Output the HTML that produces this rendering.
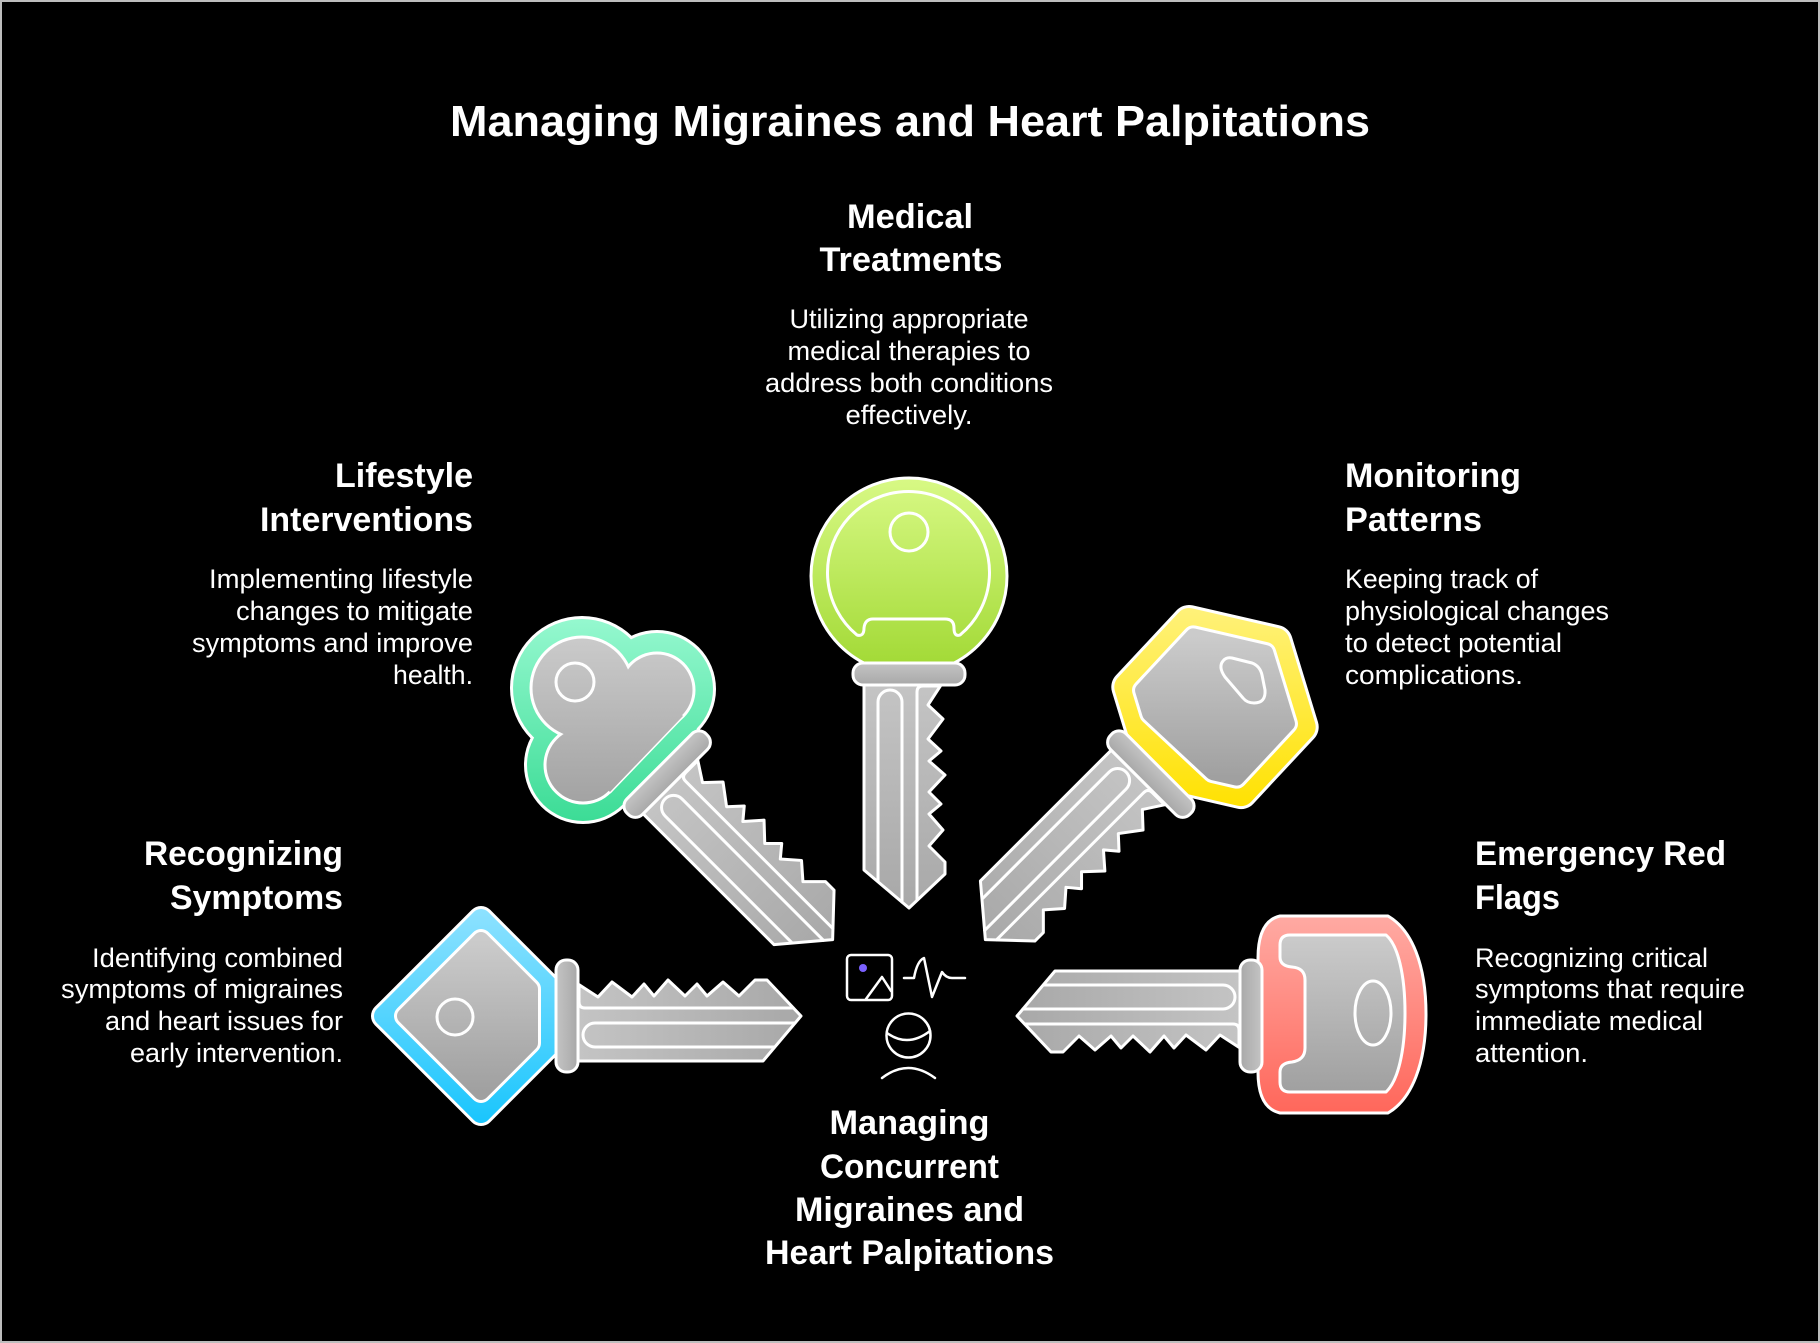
<!DOCTYPE html>
<html>
<head>
<meta charset="utf-8">
<style>
  html,body{margin:0;padding:0;background:#000;}
  svg{display:block;}
  .bl{fill:url(#gBlade);stroke:#fff;stroke-width:3;stroke-linejoin:round;}
  .ln{fill:none;stroke:#fff;stroke-width:3;stroke-linecap:round;stroke-linejoin:round;}
  .t{font-family:"Liberation Sans",sans-serif;font-weight:bold;font-size:44px;fill:#fff;}
  .h{font-family:"Liberation Sans",sans-serif;font-weight:bold;font-size:34px;fill:#fff;}
  .d{font-family:"Liberation Sans",sans-serif;font-size:27px;fill:#fff;}
</style>
</head>
<body>
<svg width="1820" height="1343" viewBox="0 0 1820 1343" xmlns="http://www.w3.org/2000/svg">
<defs>
  <linearGradient id="gBlade" x1="0" y1="0" x2="1" y2="0">
    <stop offset="0" stop-color="#c4c4c4"/><stop offset="1" stop-color="#a8a8a8"/>
  </linearGradient>
  <linearGradient id="gGray" x1="0" y1="0" x2="0" y2="1">
    <stop offset="0" stop-color="#cbcbcb"/><stop offset="1" stop-color="#a0a0a0"/>
  </linearGradient>
  <linearGradient id="gGT" gradientUnits="userSpaceOnUse" x1="0" y1="636" x2="0" y2="805">
    <stop offset="0" stop-color="#cbcbcb"/><stop offset="1" stop-color="#a2a2a2"/>
  </linearGradient>
  <linearGradient id="gB" gradientUnits="userSpaceOnUse" x1="0" y1="906" x2="0" y2="1127">
    <stop offset="0" stop-color="#8fe2ff"/><stop offset="1" stop-color="#18c5fd"/>
  </linearGradient>
  <linearGradient id="gT" gradientUnits="userSpaceOnUse" x1="0" y1="619" x2="0" y2="821">
    <stop offset="0" stop-color="#95f8cf"/><stop offset="1" stop-color="#3cdc96"/>
  </linearGradient>
  <linearGradient id="gG" gradientUnits="userSpaceOnUse" x1="0" y1="478" x2="0" y2="664">
    <stop offset="0" stop-color="#d8f985"/><stop offset="1" stop-color="#a3da37"/>
  </linearGradient>
  <linearGradient id="gY" gradientUnits="userSpaceOnUse" x1="0" y1="604" x2="0" y2="810">
    <stop offset="0" stop-color="#fff27c"/><stop offset="1" stop-color="#ffe100"/>
  </linearGradient>
  <linearGradient id="gR" gradientUnits="userSpaceOnUse" x1="0" y1="916" x2="0" y2="1113">
    <stop offset="0" stop-color="#ffaaa3"/><stop offset="1" stop-color="#ff675b"/>
  </linearGradient>
  <g id="blade">
    <path class="bl" d="M11,-32 L31,-19 L45,-34 L65,-19 L77,-32 L87,-20 L101,-36 L118,-20 L130,-32 L140,-20 L156,-34 L172,-20 L188,-36 L200,-36 L234,0 L196,45 L11,45 Z"/>
    <rect class="bl" x="-11" y="-56" width="22" height="112" rx="10"/>
    <path class="ln" d="M12,-31 L12,-14 Q12,-8 18,-8 L226,-8 M228,7 L28,7 A12 12 0 0 0 28,31 L207,31"/>
  </g>
</defs>

<rect x="0" y="0" width="1820" height="1343" fill="#000"/>
<rect x="1" y="1" width="1818" height="1341" fill="none" stroke="#bdbdbd" stroke-width="2"/>

<!-- Title -->
<text class="t" x="910" y="136" text-anchor="middle" textLength="920" lengthAdjust="spacingAndGlyphs">Managing Migraines and Heart Palpitations</text>

<!-- ===== Blue key (Recognizing) head ===== -->
<polygon points="384,1016 481,919 578,1016 481,1113" fill="#fff" stroke="#fff" stroke-width="26" stroke-linejoin="round"/>
<polygon points="384,1016 481,919 578,1016 481,1113" fill="url(#gB)" stroke="url(#gB)" stroke-width="20" stroke-linejoin="round"/>
<polygon points="405,1016 481,940 530,989 530,1043 481,1092" fill="#fff" stroke="#fff" stroke-width="22" stroke-linejoin="round"/>
<polygon points="405,1016 481,940 530,989 530,1043 481,1092" fill="url(#gGray)" stroke="url(#gGray)" stroke-width="16" stroke-linejoin="round"/>
<circle cx="455" cy="1017" r="18" fill="none" stroke="#fff" stroke-width="3"/>

<!-- ===== Teal key (Lifestyle) head ===== -->
<g fill="#fff">
  <circle cx="582" cy="688" r="72"/>
  <circle cx="657" cy="689" r="59"/>
  <circle cx="583" cy="765" r="59"/>
  <polygon points="582,688 657,689 697,729 623,805 583,765" stroke="#fff" stroke-width="6" stroke-linejoin="round"/>
</g>
<g fill="url(#gT)">
  <circle cx="582" cy="688" r="69"/>
  <circle cx="657" cy="689" r="56"/>
  <circle cx="583" cy="765" r="56"/>
  <polygon points="582,688 657,689 697,729 623,805 583,765"/>
</g>
<g fill="#fff">
  <circle cx="582" cy="688" r="52.5"/>
  <circle cx="657" cy="690" r="38.5"/>
  <circle cx="583" cy="765" r="39.5"/>
  <polygon points="582,688 657,690 683,716 610,792 583,765" stroke="#fff" stroke-width="3" stroke-linejoin="round"/>
</g>
<g fill="url(#gGT)">
  <circle cx="582" cy="688" r="49.5"/>
  <circle cx="657" cy="690" r="35.5"/>
  <circle cx="583" cy="765" r="36.5"/>
  <polygon points="582,688 657,690 683,716 610,792 583,765"/>
</g>
<circle cx="575" cy="682" r="19" fill="none" stroke="#fff" stroke-width="3"/>

<!-- ===== Green key (Medical) head ===== -->
<circle cx="909" cy="576" r="98" fill="url(#gG)" stroke="#fff" stroke-width="3"/>
<path d="M857,635 A81 81 0 1 1 960,635 Q954,637 954,628 Q954,619 945,619 L873,619 Q865,619 864,628 Q864,637 857,635 Z" fill="none" stroke="#fff" stroke-width="3" stroke-linejoin="round"/>
<circle cx="909" cy="532" r="19" fill="none" stroke="#fff" stroke-width="3"/>

<!-- ===== Yellow key (Monitoring) head ===== -->
<polygon points="1189,622 1275.7,641.9 1301.7,727 1241,792.1 1154.3,772.1 1128.3,687" fill="#fff" stroke="#fff" stroke-width="34" stroke-linejoin="round"/>
<polygon points="1189,622 1275.7,641.9 1301.7,727 1241,792.1 1154.3,772.1 1128.3,687" fill="url(#gY)" stroke="url(#gY)" stroke-width="28" stroke-linejoin="round"/>
<polygon points="1193.4,636.4 1265.3,653 1286.9,723.6 1236.6,777.6 1213,772.2 1150.2,713.6 1143.1,690.4" fill="#fff" stroke="#fff" stroke-width="22" stroke-linejoin="round"/>
<polygon points="1193.4,636.4 1265.3,653 1286.9,723.6 1236.6,777.6 1213,772.2 1150.2,713.6 1143.1,690.4" fill="url(#gGray)" stroke="url(#gGray)" stroke-width="16" stroke-linejoin="round"/>
<path d="M1232,658 L1252,663 Q1260,666 1262,675 L1265,690 Q1266,703 1254,703 Q1247,703 1243,698 L1225,677 Q1218,667 1223,661 Q1226,657 1232,658 Z" fill="none" stroke="#fff" stroke-width="3" stroke-linejoin="round"/>

<!-- ===== Red key (Emergency) head ===== -->
<path d="M1280,916 L1388,916 C1412,930 1426,965 1426,1014 C1426,1063 1412,1099 1388,1113 L1280,1113 Q1258,1108 1258,1072 L1258,958 Q1258,921 1280,916 Z" fill="url(#gR)" stroke="#fff" stroke-width="3" stroke-linejoin="round"/>
<path d="M1290,935 L1386,935 C1398,945 1405,975 1405,1013 C1405,1051 1398,1081 1386,1092 L1290,1092 Q1280,1092 1280,1082 L1280,1072 Q1280,1063 1292,1062 Q1305,1060 1305,1048 L1305,980 Q1305,968 1292,967 Q1280,966 1280,957 L1280,945 Q1280,935 1290,935 Z" fill="url(#gGray)" stroke="#fff" stroke-width="3" stroke-linejoin="round"/>
<ellipse cx="1373" cy="1013" rx="18" ry="32" fill="none" stroke="#fff" stroke-width="3"/>

<!-- ===== Blades ===== -->
<use href="#blade" transform="translate(909,1016) rotate(0) translate(-342,0)"/>
<use href="#blade" transform="translate(909,1016) rotate(45) translate(-342,0)"/>
<use href="#blade" transform="translate(909,1016) rotate(90) translate(-342,0)"/>
<use href="#blade" transform="translate(909,1016) rotate(135) translate(-342,0)"/>
<use href="#blade" transform="translate(909,1016) rotate(180) translate(-342,0)"/>

<!-- ===== Center icons ===== -->
<g fill="none" stroke="#fff" stroke-width="2.5" stroke-linecap="round" stroke-linejoin="round">
  <rect x="847" y="955" width="45" height="45" rx="4"/>
  <path d="M866,999 L882,977 L891,991"/>
  <path d="M904,978 L914,978 Q917,961 924,958 L932,997 L942,972 Q946,978 952,978 L965,978"/>
  <circle cx="908.5" cy="1035.5" r="22"/>
  <path d="M887,1033 Q908,1048 930,1031"/>
  <path d="M882,1078 Q908,1058 935,1078"/>
</g>
<circle cx="863" cy="968" r="4" fill="#7b61ff"/>

<!-- ===== Text: Medical Treatments ===== -->
<text class="h" x="910" y="228" text-anchor="middle" textLength="126" lengthAdjust="spacingAndGlyphs">Medical</text>
<text class="h" x="911" y="271" text-anchor="middle" textLength="183" lengthAdjust="spacingAndGlyphs">Treatments</text>
<text class="d" x="909" y="328" text-anchor="middle" textLength="239" lengthAdjust="spacingAndGlyphs">Utilizing appropriate</text>
<text class="d" x="909" y="360" text-anchor="middle" textLength="243" lengthAdjust="spacingAndGlyphs">medical therapies to</text>
<text class="d" x="909" y="392" text-anchor="middle" textLength="288" lengthAdjust="spacingAndGlyphs">address both conditions</text>
<text class="d" x="909" y="424" text-anchor="middle" textLength="127" lengthAdjust="spacingAndGlyphs">effectively.</text>

<!-- ===== Text: Lifestyle Interventions ===== -->
<text class="h" x="473" y="487" text-anchor="end" textLength="138" lengthAdjust="spacingAndGlyphs">Lifestyle</text>
<text class="h" x="473" y="531" text-anchor="end" textLength="213" lengthAdjust="spacingAndGlyphs">Interventions</text>
<text class="d" x="473" y="588" text-anchor="end" textLength="264" lengthAdjust="spacingAndGlyphs">Implementing lifestyle</text>
<text class="d" x="473" y="620" text-anchor="end" textLength="237" lengthAdjust="spacingAndGlyphs">changes to mitigate</text>
<text class="d" x="473" y="652" text-anchor="end" textLength="281" lengthAdjust="spacingAndGlyphs">symptoms and improve</text>
<text class="d" x="473" y="684" text-anchor="end" textLength="80" lengthAdjust="spacingAndGlyphs">health.</text>

<!-- ===== Text: Monitoring Patterns ===== -->
<text class="h" x="1345" y="487" textLength="176" lengthAdjust="spacingAndGlyphs">Monitoring</text>
<text class="h" x="1345" y="531" textLength="137" lengthAdjust="spacingAndGlyphs">Patterns</text>
<text class="d" x="1345" y="588" textLength="193" lengthAdjust="spacingAndGlyphs">Keeping track of</text>
<text class="d" x="1345" y="620" textLength="264" lengthAdjust="spacingAndGlyphs">physiological changes</text>
<text class="d" x="1345" y="652" textLength="217" lengthAdjust="spacingAndGlyphs">to detect potential</text>
<text class="d" x="1345" y="684" textLength="178" lengthAdjust="spacingAndGlyphs">complications.</text>

<!-- ===== Text: Recognizing Symptoms ===== -->
<text class="h" x="343" y="865" text-anchor="end" textLength="199" lengthAdjust="spacingAndGlyphs">Recognizing</text>
<text class="h" x="343" y="909" text-anchor="end" textLength="173" lengthAdjust="spacingAndGlyphs">Symptoms</text>
<text class="d" x="343" y="967" text-anchor="end" textLength="251" lengthAdjust="spacingAndGlyphs">Identifying combined</text>
<text class="d" x="343" y="998" text-anchor="end" textLength="282" lengthAdjust="spacingAndGlyphs">symptoms of migraines</text>
<text class="d" x="343" y="1030" text-anchor="end" textLength="238" lengthAdjust="spacingAndGlyphs">and heart issues for</text>
<text class="d" x="343" y="1062" text-anchor="end" textLength="213" lengthAdjust="spacingAndGlyphs">early intervention.</text>

<!-- ===== Text: Emergency Red Flags ===== -->
<text class="h" x="1475" y="865" textLength="251" lengthAdjust="spacingAndGlyphs">Emergency Red</text>
<text class="h" x="1475" y="909" textLength="85" lengthAdjust="spacingAndGlyphs">Flags</text>
<text class="d" x="1475" y="967" textLength="233" lengthAdjust="spacingAndGlyphs">Recognizing critical</text>
<text class="d" x="1475" y="998" textLength="270" lengthAdjust="spacingAndGlyphs">symptoms that require</text>
<text class="d" x="1475" y="1030" textLength="228" lengthAdjust="spacingAndGlyphs">immediate medical</text>
<text class="d" x="1475" y="1062" textLength="113" lengthAdjust="spacingAndGlyphs">attention.</text>

<!-- ===== Text: center bottom ===== -->
<text class="h" x="909.5" y="1134" text-anchor="middle" textLength="160" lengthAdjust="spacingAndGlyphs">Managing</text>
<text class="h" x="909.5" y="1178" text-anchor="middle" textLength="179" lengthAdjust="spacingAndGlyphs">Concurrent</text>
<text class="h" x="909.5" y="1221" text-anchor="middle" textLength="229" lengthAdjust="spacingAndGlyphs">Migraines and</text>
<text class="h" x="909.5" y="1264" text-anchor="middle" textLength="289" lengthAdjust="spacingAndGlyphs">Heart Palpitations</text>
</svg>
</body>
</html>
